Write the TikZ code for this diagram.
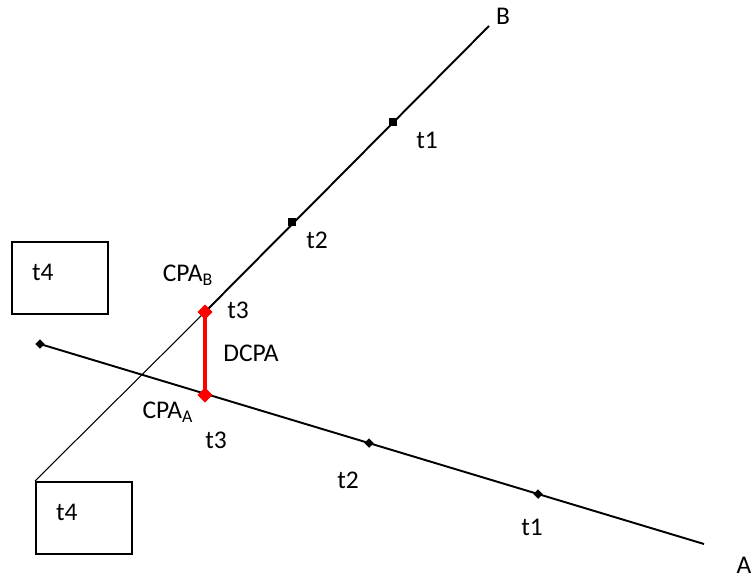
\documentclass[tikz,border=0pt]{standalone}
\usepackage{fontspec}
\setmainfont{Carlito}
\usetikzlibrary{shapes.geometric,positioning,calc}

\begin{document}
\begin{tikzpicture}[x=0.02cm, y=-0.02cm,
  lbl/.style={font=\fontsize{14.5}{16}\selectfont, inner sep=0pt},
  track/.style={line width=1.1pt},
  sqmark/.style={draw, fill, rectangle, minimum size=3.6pt, inner sep=0pt},
  dmmark/.style={draw, fill, diamond, minimum size=5pt, inner sep=0pt},
  cpamark/.style={draw=red, fill=red, diamond, minimum size=8pt, inner sep=0pt},
  tbox/.style={draw, line width=0.9pt, minimum width=96*0.02cm, minimum height=72*0.02cm, inner sep=0pt}
]
\useasboundingbox (0,0) rectangle (753,581);

% ship B
\coordinate (bend) at (489,26);
\node[sqmark] (b1) at (393,122) {};
\node[sqmark] (b2) at (292,222) {};
\node[cpamark] (cpab) at (205,312) {};
\node[tbox, anchor=north west] (b4) at (35,481) {};

% ship A
\node[dmmark] (astart) at (40,344) {};
\coordinate (aend) at (704,544);
\node[dmmark] (a1) at (538,494) {};
\node[dmmark] (a2) at (369,443) {};
\node[cpamark] (cpaa) at (205,395) {};
\node[tbox, anchor=north west] (a4) at (11,241) {};

\draw[track] (cpab.center) -- (bend);
\draw[line width=0.6pt] (b4.north west) -- (cpab.center);
\draw[track] (astart.center) -- (aend);
\draw[red, line width=2.2pt] (cpab.center) -- (cpaa.center);
\node[cpamark] at (cpab) {};
\node[cpamark] at (cpaa) {};

% labels
\node[lbl] (lb) at (503,16) {B};
\node[lbl] (la) at (744,565) {A};
\node[lbl] (lb1) at (427,140) {t1};
\node[lbl] (lb2) at (317,240) {t2};
\node[lbl] (lb3) at (238,310) {t3};
\node[lbl] (lcpab) at (188,275) {CPA\textsubscript{B}};
\node[lbl] (ldcpa) at (251,353) {DCPA};
\node[lbl] (lcpaa) at (168,412) {CPA\textsubscript{A}};
\node[lbl] (la3) at (216,440) {t3};
\node[lbl] (la2) at (348,480) {t2};
\node[lbl] (la1) at (532,527) {t1};
\node[lbl] (la4) at ($(a4.center)+(-17,-5)$) {t4};
\node[lbl] (lb4) at ($(b4.center)+(-17,-5)$) {t4};
\end{tikzpicture}
\end{document}
